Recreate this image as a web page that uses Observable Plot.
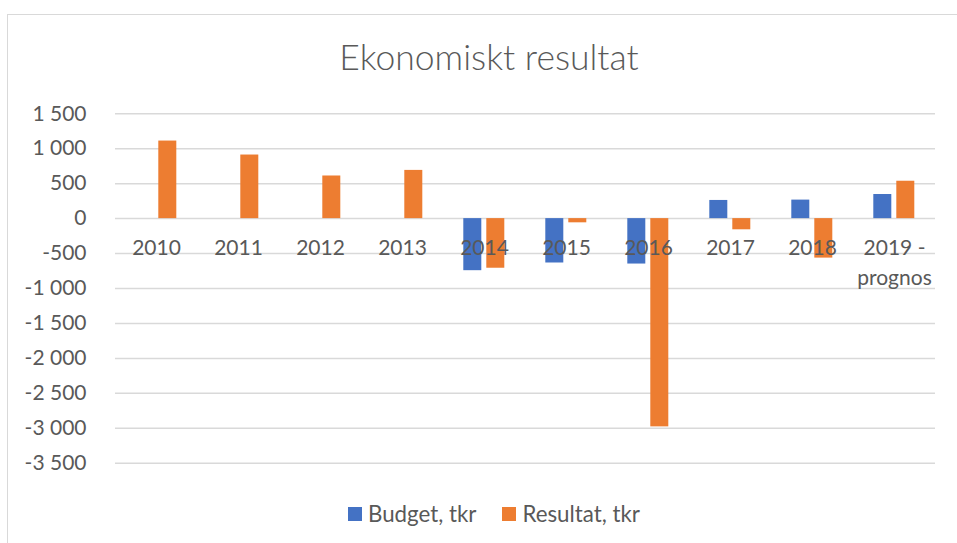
<!DOCTYPE html>
<html><head><meta charset="utf-8">
<script src="https://cdn.jsdelivr.net/npm/d3@7"></script>
<script src="https://cdn.jsdelivr.net/npm/@observablehq/plot@0.6"></script>
<style>
body{margin:0;background:#fff;font-family:Lato,"Open Sans",sans-serif;color:#595959;overflow:hidden;width:957px;height:543px;position:relative}
#frame{position:absolute;left:7px;top:14px;width:990px;height:580px;border:1px solid #d9d9d9;box-sizing:border-box}
#title{position:absolute;left:0;width:978px;top:36px;text-align:center;font-size:35.5px;font-weight:300;white-space:nowrap;line-height:1.2}
#chart{position:absolute;left:0;top:95px}
#legend{position:absolute;left:348px;top:500px;display:flex;align-items:center;font-size:22.3px;white-space:nowrap}
.item{display:flex;align-items:center}
.sw{display:inline-block;width:14px;height:14px;margin-right:6px}
</style></head>
<body>
<div id="frame"></div>
<div id="title">Ekonomiskt resultat</div>
<div id="chart"></div>
<div id="legend"></div>
<script>
const categories = ["2010","2011","2012","2013","2014","2015","2016","2017","2018","2019 - prognos"];
const seriesNames = ["Budget, tkr","Resultat, tkr"];
const budget   = [null, null, null, null, -745, -635, -650, 260, 265, 345];
const resultat = [1110, 910, 610, 690, -710, -60, -2980, -160, -565, 535];
const colors = ["#4472C4","#ED7D31"];
const yTicks = [1500,1000,500,0,-500,-1000,-1500,-2000,-2500,-3000,-3500];

const rows = [];
categories.forEach((c,i)=>{
  if (budget[i] != null) rows.push({cat:c, series:seriesNames[0], value:budget[i]});
  if (resultat[i] != null) rows.push({cat:c, series:seriesNames[1], value:resultat[i]});
});

const fmt = d3.formatLocale({decimal:",", thousands:" ", grouping:[3], currency:["","kr"], minus:"-"}).format(",");

const chart = Plot.plot({
  width:957, height:400,
  marginTop:18.3, marginBottom:32.3, marginLeft:110.7, marginRight:16.8,
  style:{fontFamily:"Lato, 'Open Sans', sans-serif", fontSize:"21px", color:"#595959", background:"transparent", overflow:"visible"},
  fx:{domain:categories, padding:0, axis:null, label:null},
  x:{domain:seriesNames, paddingInner:0.213, paddingOuter:0.87, axis:null, label:null},
  y:{domain:[-3500,1500], axis:null, label:null},
  color:{domain:seriesNames, range:colors},
  marks:[
    Plot.ruleY(yTicks, {stroke:"#d9d9d9", strokeWidth:1.5}),
    Plot.barY(rows, {fx:"cat", x:"series", y:"value", fill:"series"}),
    Plot.axisY({ticks:yTicks, tickSize:0, tickPadding:29, tickFormat:fmt, fontSize:21, fill:"#595959", label:null}),
    Plot.text(categories, {fx:d=>d, y:()=>0, text:d=>d.replace(" - "," -\n"), lineAnchor:"top", dy:15.5, lineHeight:1.43, fontSize:21, fill:"#595959"})
  ]
});
document.getElementById("chart").appendChild(chart);

const legend = document.getElementById("legend");
seriesNames.forEach((s,i)=>{
  const it = document.createElement("div");
  it.className = "item";
  if (i>0) it.style.marginLeft = "26px";
  const sw = document.createElement("span");
  sw.className = "sw"; sw.style.background = colors[i];
  it.appendChild(sw);
  it.appendChild(document.createTextNode(s));
  legend.appendChild(it);
});
</script>
</body></html>
